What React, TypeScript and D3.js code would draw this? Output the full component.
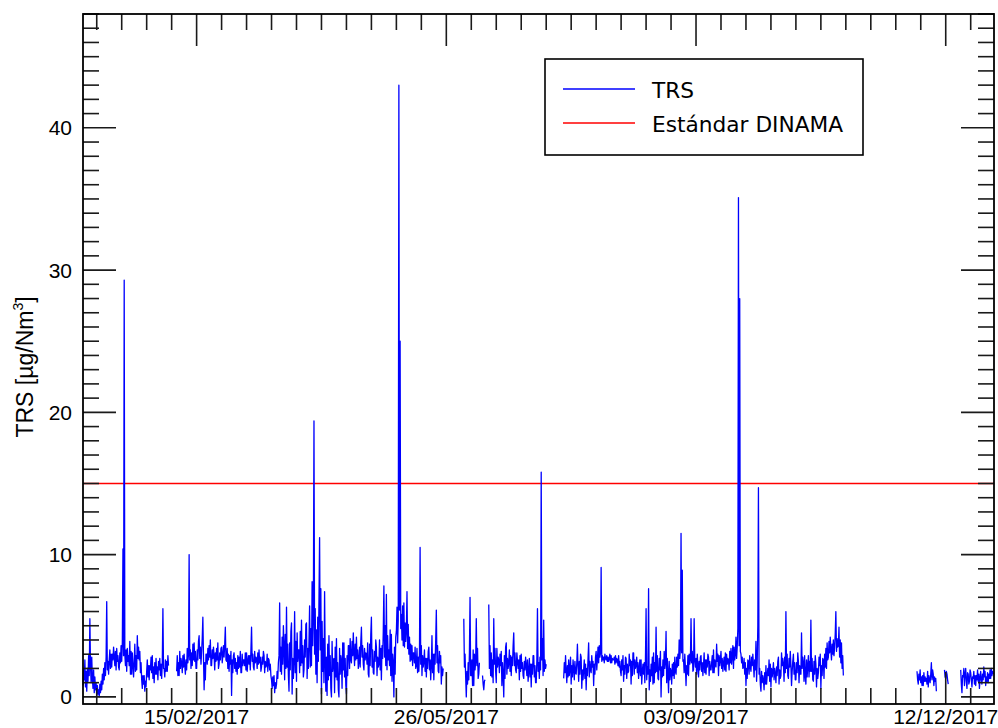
import React from "react";
import * as d3 from "d3";

// Canvas and plot frame
const W = 998;
const H = 728;
const PLOT = { left: 83, top: 14, right: 994, bottom: 704 };

// Axis ranges
const X_START = "2016-12-31T12:00:00Z";
const X_END = "2017-12-31T08:00:00Z";
const Y_MIN = -0.5;
const Y_MAX = 48;

// Tick labels
const xMajorDates = ["2017-02-15", "2017-05-26", "2017-09-03", "2017-12-12"];
const xMajorLabels = ["15/02/2017", "26/05/2017", "03/09/2017", "12/12/2017"];
const xMinorStepDays = 10;
const yMajorTicks = [0, 10, 20, 30, 40];
const yMinorStep = 1;

// DINAMA standard for TRS
const STANDARD_TRS = 15;

// TRS readings, 6-hour steps, one array per continuous stretch of data
const STEP_HOURS = 6;

const trsJan = [
  0.8, 1.9,
  1.2, 2.6, 0.7, 1.8, 0.4, 2.0, 1.1, 2.9, 1.5, 5.5, 2.2, 1.0, 2.8, 1.3, 0.6, 1.9,
  0.3, 1.4, 0.5, 1.0, 0.1, 0.8, 0.2, 0.5, 0.0, 0.9, 0.3, 1.1, 0.5, 1.6, 0.9, 2.0,
  1.2, 2.4, 1.5, 2.8, 6.7, 1.9, 2.5, 1.6, 2.6, 3.3, 2.0, 3.0, 2.1, 3.0, 2.6, 3.5,
  2.8, 2.2, 3.2, 1.9, 3.4, 2.5, 2.9, 2.1, 1.9, 3.1, 2.4, 3.6, 2.5, 3.8, 10.4, 2.9,
  29.3, 3.0, 2.2, 3.3, 1.8, 3.4, 2.5, 2.9, 2.2, 3.9, 1.6, 3.2, 1.6, 3.1, 2.3, 1.4,
  2.4, 3.7, 1.8, 2.9, 1.9, 4.3, 2.7, 3.5, 2.6, 3.2, 1.7, 2.4, 1.2, 0.6, 1.5, 0.9,
  1.5, 0.4, 1.1, 0.7, 1.8, 2.6, 1.4, 2.2, 1.2, 2.2, 1.9, 2.8, 1.7, 2.9, 1.3, 2.1,
  1.0, 2.4, 1.6, 2.7, 1.6, 2.1, 1.2, 2.5, 1.9, 2.7, 1.5, 2.3, 1.3, 2.4, 6.2, 2.0,
  2.0, 1.4, 2.6, 1.8, 2.5, 1.8, 2.9, 2.2,
];

const trsFebMay = [
  1.8, 2.9, 1.5, 2.4, 1.5, 3.2, 2.0, 2.7, 2.4, 1.7, 2.9, 2.1, 3.0, 2.2, 1.6, 2.6,
  1.9, 3.4, 2.4, 3.0, 10.0, 2.6, 3.3, 2.0, 3.1, 2.2, 3.7, 2.6, 3.8, 2.5, 3.2, 2.0,
  2.0, 3.3, 2.6, 3.9, 4.3, 2.7, 3.5, 2.3, 3.2, 4.1, 5.6, 2.8, 0.5, 2.4, 1.2, 3.0,
  3.0, 2.3, 3.4, 2.6, 3.6, 2.8, 4.0, 2.2, 2.2, 3.3, 2.7, 3.5, 2.9, 1.9, 3.1, 2.5,
  3.4, 2.6, 3.8, 2.0, 2.3, 3.1, 2.6, 3.4, 3.5, 2.4, 2.9, 3.6, 2.8, 3.7, 4.9, 2.6,
  2.5, 3.4, 2.0, 3.0, 1.8, 2.9, 2.3, 3.2, 0.1, 2.6, 1.7, 2.9, 3.1, 2.0, 2.7, 1.8,
  2.4, 1.6, 2.9, 2.0, 2.8, 2.1, 3.2, 1.7, 1.7, 3.0, 2.2, 2.6, 2.6, 2.2, 3.1, 1.9,
  3.1, 1.8, 2.5, 2.9, 2.3, 2.9, 1.9, 3.3, 4.9, 2.5, 3.0, 2.1, 1.9, 3.2, 2.4, 2.8,
  2.7, 2.0, 3.1, 2.3, 3.3, 2.4, 2.8, 1.8, 2.1, 2.8, 2.3, 3.2, 2.9, 1.7, 2.5, 2.1,
  2.2, 3.0, 1.8, 2.7, 2.6, 1.9, 2.3, 1.5, 1.2, 0.6, 1.4, 0.8, 1.5, 0.3, 1.0, 0.6,
  0.9, 1.8, 1.3, 2.4, 2.9, 6.6, 1.8, 3.5, 1.6, 4.2, 2.3, 5.0, 3.5, 1.2, 4.4, 2.0,
  6.3, 2.1, 3.7, 1.5, 0.4, 3.8, 1.9, 4.6, 5.2, 0.2, 2.7, 1.3, 2.6, 6.0, 1.7, 3.9,
  1.1, 4.5, 2.5, 3.3, 3.3, 1.7, 4.6, 2.2, 5.4, 2.4, 3.6, 1.4, 1.9, 4.0, 2.8, 5.1,
  5.2, 1.3, 3.4, 2.0, 3.9, 6.4, 2.1, 4.8, 2.2, 8.1, 3.6, 5.5, 19.4, 3.0, 6.2, 1.6,
  4.7, 1.0, 5.6, 2.5, 6.8, 11.2, 3.3, 7.6, 0.2, 5.3, 1.8, 4.1, 1.0, 7.4, 2.6, 0.4,
  2.8, 0.1, 3.7, 1.2, 4.3, 1.5, 2.9, 0.6, 0.0, 3.9, 1.8, 2.6, 2.7, 0.3, 3.5, 1.4,
  4.1, 1.2, 2.4, 0.5, 0.0, 3.4, 1.6, 2.9, 2.5, 0.6, 3.8, 1.9, 3.8, 1.4, 2.7, 0.8,
  0.2, 2.9, 1.5, 3.6, 3.6, 2.0, 4.1, 2.6, 2.4, 3.9, 2.9, 4.5, 3.1, 2.2, 3.7, 2.6,
  4.2, 2.7, 3.3, 2.0, 2.5, 3.5, 2.1, 3.9, 4.9, 2.8, 3.6, 2.3, 1.9, 3.4, 2.6, 3.1,
  3.0, 2.3, 3.8, 1.6, 1.4, 3.7, 2.2, 4.4, 5.6, 2.1, 3.3, 1.7, 1.6, 3.2, 2.5, 4.0,
  3.5, 1.5, 2.8, 2.1, 2.3, 4.0, 1.9, 3.4, 1.2, 3.6, 2.7, 4.6, 7.8, 2.8, 5.0, 2.2,
  7.2, 1.9, 4.3, 2.6, 3.3, 2.2, 4.7, 1.5, 4.4, 1.1, 3.0, 2.4, 0.0, 3.5, 1.6, 4.2,
  4.6, 6.3, 3.8, 5.4, 43.0, 6.1, 25.0, 4.8, 5.8, 4.0, 6.4, 3.6, 6.6, 3.5, 5.2, 3.9,
  4.7, 7.4, 3.4, 5.1, 3.0, 4.2, 2.5, 3.7, 2.6, 3.6, 2.2, 3.1, 3.1, 2.4, 3.5, 2.0,
  2.2, 3.4, 1.7, 2.8, 1.8, 3.1, 10.5, 2.3, 3.6, 1.5, 2.9, 2.1, 2.5, 3.3, 1.8, 2.7,
  1.4, 2.7, 2.0, 3.2, 3.5, 1.9, 2.6, 1.2, 2.2, 4.3, 1.7, 3.0, 1.2, 3.0, 2.3, 4.0,
  6.1, 2.4, 3.6, 1.8, 1.7, 3.2, 2.4, 2.9, 0.9, 2.1, 1.5, 2.0,
];

const trsJunA = [
  5.5, 2.1, 3.0, 1.4, 0.0, 1.8, 0.9, 2.4, 1.2, 3.1, 7.0, 1.5, 1.5, 2.6, 0.8, 3.3,
  0.8, 3.0, 1.9, 2.5, 5.5, 2.2, 3.4, 1.3, 1.6, 2.4,
];

const trsJunB = [1.5, 0.9, 0.5, 1.1, 1.2];

const trsJunJul = [
  6.5, 2.0, 3.6, 1.5, 3.1, 1.4, 2.6, 1.0, 5.5, 2.3, 3.4, 1.8, 1.0, 3.4, 2.1, 2.8,
  2.6, 1.7, 3.0, 2.2, 3.2, 0.8, 2.4, 1.6, 0.0, 2.9, 1.3, 3.5, 3.8, 1.6, 2.7, 2.0,
  2.4, 3.3, 1.8, 2.9, 1.5, 2.8, 2.2, 3.6, 4.5, 2.2, 3.1, 1.9, 1.7, 3.1, 2.5, 2.0,
  2.6, 1.2, 2.9, 1.8, 3.0, 2.0, 2.4, 1.5, 1.3, 2.5, 1.9, 2.8, 2.2, 1.5, 2.6, 1.1,
  1.8, 2.7, 1.4, 2.3, 0.7, 2.3, 1.6, 2.9, 2.9, 1.4, 2.2, 1.0, 1.0, 2.5, 6.2, 1.8,
  2.4, 1.3, 2.8, 1.9, 15.8, 2.6, 4.1, 1.5, 5.4, 1.8, 2.6, 2.0, 2.3,
];

const trsJulOct = [
  1.3, 2.4, 1.7, 2.9, 1.8, 1.0, 2.2, 1.4, 2.6, 1.5, 2.0, 2.8, 0.9, 2.2, 1.4, 2.6,
  2.0, 1.2, 2.5, 1.7, 1.6, 2.4, 3.7, 2.1, 1.1, 2.5, 1.6, 3.0, 2.8, 0.6, 1.9, 1.2,
  1.9, 2.6, 1.3, 2.3, 0.5, 2.0, 1.5, 2.7, 3.8, 1.4, 2.5, 1.9, 1.7, 2.9, 2.1, 2.5,
  0.8, 2.3, 1.6, 2.8, 3.2, 1.9, 2.6, 3.5, 2.4, 3.6, 2.8, 3.1, 9.1, 2.5, 2.9, 2.6,
  2.8, 2.4, 3.0, 2.7, 2.6, 2.9, 2.5, 2.8, 2.5, 2.7, 3.0, 2.4, 2.9, 2.4, 2.7, 2.6,
  2.6, 2.8, 2.3, 2.9, 2.4, 2.7, 2.6, 2.2, 2.9, 2.1, 2.5, 1.8, 1.5, 2.6, 1.9, 2.9,
  1.1, 2.2, 1.6, 2.8, 2.7, 1.3, 2.3, 1.7, 1.8, 3.0, 2.2, 2.6, 0.9, 2.5, 1.5, 3.1,
  3.1, 1.6, 2.6, 2.0, 2.2, 2.8, 1.7, 2.4, 1.3, 2.0, 2.6, 1.5, 2.6, 0.9, 1.8, 2.3,
  1.6, 2.4, 1.0, 2.7, 6.2, 1.2, 2.1, 1.6, 7.6, 0.5, 1.9, 1.1, 2.3, 1.5, 2.8, 0.9,
  3.1, 1.0, 2.4, 1.7, 4.9, 1.8, 2.9, 1.3, 1.2, 2.7, 1.9, 3.2, 0.0, 2.1, 1.4, 2.6,
  1.5, 3.2, 2.0, 2.5, 4.6, 1.0, 2.7, 1.6, 0.3, 2.5, 1.2, 2.0, 1.8, 0.9, 2.3, 1.5,
  2.4, 1.3, 2.8, 1.8, 1.6, 2.8, 2.1, 3.0, 2.2, 4.0, 2.7, 3.4, 11.5, 3.1, 8.9, 2.5,
  2.6, 1.7, 3.0, 2.1, 0.8, 2.2, 1.6, 2.9, 1.5, 3.0, 2.3, 2.6, 5.5, 2.4, 3.2, 1.8,
  1.9, 5.5, 2.6, 2.1, 2.7, 1.6, 3.0, 2.2, 1.4, 2.5, 1.9, 2.8, 2.9, 1.8, 2.4, 1.5,
  2.2, 3.1, 1.7, 2.6, 1.6, 2.6, 2.1, 3.0, 2.8, 1.5, 2.5, 1.9, 1.9, 2.4, 2.9, 1.7,
  3.3, 1.7, 2.6, 2.2, 2.1, 3.7, 2.5, 3.0, 1.5, 2.9, 2.2, 2.6, 3.2, 2.0, 2.7, 1.8,
  2.4, 2.8, 1.9, 3.1, 1.8, 3.0, 2.3, 2.7, 2.6, 1.9, 3.2, 2.4, 3.4, 2.3, 2.9, 3.6,
  2.0, 3.5, 2.6, 3.0, 4.2, 2.7, 3.5, 4.8, 35.1, 3.6, 28.0, 3.2, 3.0, 2.4, 2.8, 2.0,
  2.1, 2.7, 1.6, 2.4, 0.8, 2.0, 1.3, 2.6, 2.5, 1.6, 2.9, 2.1, 1.8, 2.8, 2.2, 3.0,
  2.3, 1.4, 2.6, 1.9, 3.9, 1.1, 2.4, 5.0, 14.7, 1.6, 2.0, 0.9, 0.4, 1.8, 1.0, 1.5,
  1.2, 0.5, 1.7, 0.9, 2.2, 0.9, 1.5, 2.0, 1.5, 2.6, 1.1, 2.3, 0.7, 2.0, 1.4, 1.8,
  2.4, 1.2, 2.0, 1.6, 1.0, 2.1, 1.5, 2.5, 2.8, 0.9, 1.9, 1.3, 1.5, 3.1, 2.2, 2.7,
  2.3, 1.1, 2.8, 1.7, 6.0, 2.0, 3.0, 1.5, 1.3, 2.7, 2.1, 3.2, 2.2, 0.8, 1.8, 2.5,
  3.0, 1.6, 2.4, 1.2, 1.2, 2.4, 1.7, 3.1, 2.5, 1.0, 2.2, 1.6, 1.6, 4.5, 2.0, 2.8,
  2.4, 1.1, 2.9, 1.5, 0.9, 2.6, 1.4, 2.2, 2.9, 1.4, 2.5, 1.8, 5.4, 1.8, 2.7, 1.2,
  1.1, 2.5, 1.6, 2.9, 2.3, 0.7, 2.0, 1.3, 1.7, 2.8, 2.2, 3.0, 0.6, 2.2, 1.5, 2.7,
  2.6, 1.3, 3.0, 2.1, 3.4, 2.0, 3.8, 2.6, 2.8, 3.9, 3.1, 4.2, 3.3, 2.6, 3.7, 3.0,
  4.0, 2.9, 3.5, 4.4, 6.0, 3.2, 4.1, 3.5, 3.6, 4.9, 2.8, 4.0, 2.4, 3.8, 2.0, 2.9,
  1.5,
];

const trsNov = [
  1.8, 1.2, 0.9, 1.6, 1.2, 1.9, 1.0, 1.4, 0.8, 1.5, 0.8, 1.7, 1.1, 1.4, 1.1, 1.3,
  0.9, 1.8, 0.7, 1.5, 1.2, 1.0, 1.6, 2.4, 1.2, 1.9, 1.6, 0.8, 1.4, 1.1, 1.3, 0.4,
];

const trsDecA = [1.9, 1.4, 1.3, 1.8, 1.6, 1.2, 0.9];

const trsDecB = [
  1.9, 0.9, 0.3, 1.5, 1.4, 2.0, 0.8, 1.6, 2.0, 1.1, 0.6, 1.7, 1.6, 0.9, 1.1, 1.9,
  1.7, 1.2, 0.7, 1.4, 1.3, 1.8, 0.9, 1.5, 0.8, 1.5, 1.2, 1.9, 1.1, 1.6, 0.6, 1.3,
  1.8, 1.2, 0.9, 1.6, 1.2, 2.1, 1.4, 1.8, 0.8, 1.4, 1.1, 1.7, 1.0, 1.6, 1.3, 1.9,
  1.3, 2.0, 1.5, 1.8, 1.6,
];

const segmentStarts = [
  "2016-12-31T12:00:00Z",
  "2017-02-07T00:00:00Z",
  "2017-06-02T00:00:00Z",
  "2017-06-09T12:00:00Z",
  "2017-06-12T00:00:00Z",
  "2017-07-12T00:00:00Z",
  "2017-11-30T12:00:00Z",
  "2017-12-11T12:00:00Z",
  "2017-12-18T00:00:00Z",
];
const segmentValues = [trsJan, trsFebMay, trsJunA, trsJunB, trsJunJul, trsJulOct, trsNov, trsDecA, trsDecB];

type Pt = { t: Date; v: number | null };

function buildSeries(): Pt[] {
  const out: Pt[] = [];
  segmentStarts.forEach((s, i) => {
    const start = new Date(s);
    segmentValues[i].forEach((v, k) => {
      out.push({ t: d3.utcHour.offset(start, k * STEP_HOURS), v });
    });
    const last = out[out.length - 1].t;
    out.push({ t: d3.utcHour.offset(last, 1), v: null });
  });
  return out;
}

const FONT_TICK = "'Liberation Sans', Arial, sans-serif";
const FONT_LEGEND = "'DejaVu Sans', Verdana, sans-serif";

export default function App() {
  const x = d3
    .scaleUtc()
    .domain([new Date(X_START), new Date(X_END)])
    .range([PLOT.left, PLOT.right]);
  const y = d3.scaleLinear().domain([Y_MIN, Y_MAX]).range([PLOT.bottom, PLOT.top]);

  const series = buildSeries();
  const line = d3
    .line<Pt>()
    .defined((d) => d.v !== null)
    .x((d) => x(d.t))
    .y((d) => y(d.v as number));

  const majors = xMajorDates.map((d) => new Date(d + "T00:00:00Z"));
  // minor x ticks every 10 days, anchored on the first labelled date
  const xMinor: Date[] = [];
  const [x0, x1] = x.domain();
  for (let k = -20; k < 60; k++) {
    const d = d3.utcDay.offset(majors[0], k * xMinorStepDays);
    if (d >= x0 && d <= x1) xMinor.push(d);
  }
  const majorSet = new Set(majors.map((d) => +d));

  const yMinor = d3.range(Math.ceil(Y_MIN), Y_MAX + 0.001, yMinorStep).filter((v) => !yMajorTicks.includes(v));

  const tickColor = "#1a1a1a";
  const sw = 1.6;
  const MAJ = 32;
  const MIN = 16;

  return (
    <svg width={W} height={H} style={{ position: "absolute", left: 0, top: 0, background: "#fff" }}>
      <rect x={0} y={0} width={W} height={H} fill="#fff" />

      {/* standard threshold */}
      <line
        x1={PLOT.left}
        x2={PLOT.right}
        y1={y(STANDARD_TRS)}
        y2={y(STANDARD_TRS)}
        stroke="#ff0000"
        strokeWidth={1.5}
      />

      {/* TRS series */}
      <path d={line(series) || ""} fill="none" stroke="#0000ff" strokeWidth={1.3} strokeLinejoin="round" />

      {/* x ticks: bottom and top, pointing inward */}
      {xMinor.map((d, i) => {
        const len = majorSet.has(+d) ? MAJ : MIN;
        const px = x(d);
        return (
          <g key={"xt" + i} stroke={tickColor} strokeWidth={sw}>
            <line x1={px} x2={px} y1={PLOT.bottom} y2={PLOT.bottom - len} />
            <line x1={px} x2={px} y1={PLOT.top} y2={PLOT.top + len} />
          </g>
        );
      })}

      {/* y ticks: left and right, pointing inward */}
      {yMinor.map((v) => (
        <g key={"ym" + v} stroke={tickColor} strokeWidth={sw}>
          <line x1={PLOT.left} x2={PLOT.left + MIN} y1={y(v)} y2={y(v)} />
          <line x1={PLOT.right} x2={PLOT.right - MIN} y1={y(v)} y2={y(v)} />
        </g>
      ))}
      {yMajorTicks.map((v) => (
        <g key={"yM" + v} stroke={tickColor} strokeWidth={sw}>
          <line x1={PLOT.left} x2={PLOT.left + MAJ + 1} y1={y(v)} y2={y(v)} />
          <line x1={PLOT.right} x2={PLOT.right - MAJ - 1} y1={y(v)} y2={y(v)} />
        </g>
      ))}

      {/* frame */}
      <rect
        x={PLOT.left}
        y={PLOT.top}
        width={PLOT.right - PLOT.left}
        height={PLOT.bottom - PLOT.top}
        fill="none"
        stroke="#000"
        strokeWidth={1.8}
      />

      {/* y tick labels */}
      {yMajorTicks.map((v) => (
        <text
          key={"yl" + v}
          x={PLOT.left - 11}
          y={y(v)}
          dy="0.36em"
          textAnchor="end"
          fontFamily={FONT_TICK}
          fontSize={21}
          fill="#000"
        >
          {v}
        </text>
      ))}

      {/* x tick labels */}
      {majors.map((d, i) => (
        <text
          key={"xl" + i}
          x={x(d)}
          y={724}
          textAnchor="middle"
          fontFamily={FONT_TICK}
          fontSize={21}
          fill="#000"
        >
          {xMajorLabels[i]}
        </text>
      ))}

      {/* y axis title */}
      <text
        transform={`translate(33,${(PLOT.top + PLOT.bottom) / 2 + 8}) rotate(-90)`}
        textAnchor="middle"
        fontFamily={FONT_TICK}
        fontSize={23}
        fill="#000"
      >
        TRS [µg/Nm
        <tspan fontSize={14} dy={-10}>
          3
        </tspan>
        <tspan dy={10}>]</tspan>
      </text>

      {/* legend */}
      <g>
        <rect x={545} y={59} width={318} height={96} fill="#fff" stroke="#000" strokeWidth={1.6} />
        <line x1={563} x2={635} y1={89} y2={89} stroke="#0000ff" strokeWidth={1.4} />
        <line x1={563} x2={635} y1={123} y2={123} stroke="#ff0000" strokeWidth={1.5} />
        <text x={652} y={98} fontFamily={FONT_LEGEND} fontSize={21.7} fill="#000">
          TRS
        </text>
        <text x={652} y={132} fontFamily={FONT_LEGEND} fontSize={21.7} fill="#000">
          Estándar DINAMA
        </text>
      </g>
    </svg>
  );
}
